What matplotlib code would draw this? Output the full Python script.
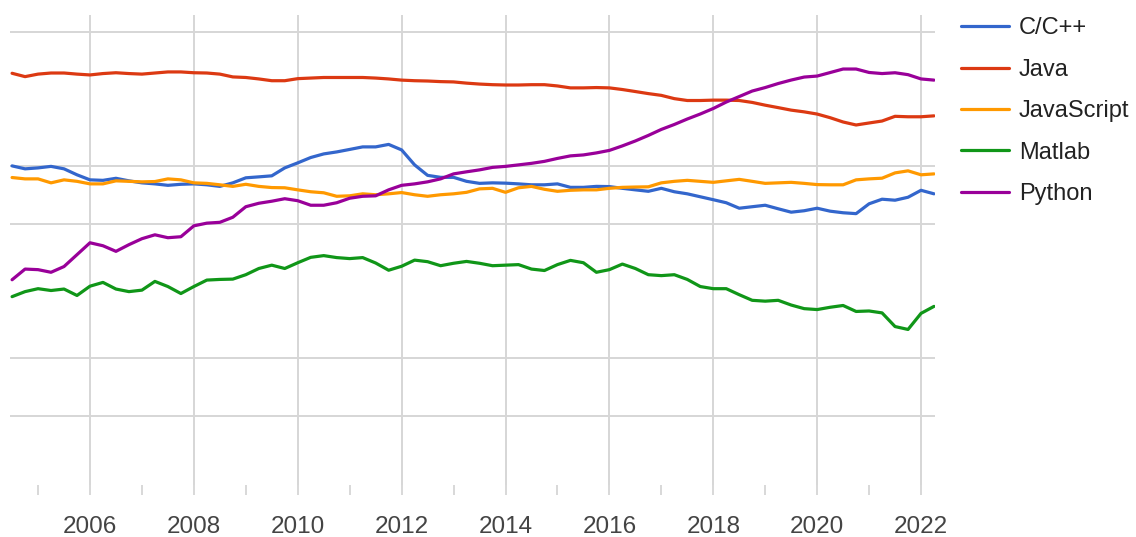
import numpy as np
import matplotlib
matplotlib.use("Agg")
import matplotlib.pyplot as plt
from matplotlib.ticker import MultipleLocator, NullFormatter

plt.rcParams['font.family'] = ['Liberation Sans', 'DejaVu Sans']

# quarterly samples, mid 2004 .. Q1 2022 (share of searches, %)
years = [2004.5 + 0.25 * k for k in range(72)]

cpp = [10.04, 9.69, 9.80, 9.98, 9.69, 9.02, 8.49, 8.44, 8.65, 8.39, 8.19, 8.09,
       7.95, 8.05, 8.09, 8.00, 7.85, 8.19, 8.70, 8.80, 8.91, 9.80, 10.41, 11.10,
       11.59, 11.87, 12.23, 12.61, 12.61, 12.99, 12.16, 10.16, 8.96, 8.75, 8.75, 8.34,
       8.14, 8.19, 8.16, 8.09, 8.00, 8.00, 8.09, 7.76, 7.76, 7.85, 7.83, 7.67,
       7.53, 7.40, 7.67, 7.36, 7.18, 6.93, 6.69, 6.45, 6.04, 6.15, 6.26, 6.00,
       5.76, 5.86, 6.04, 5.83, 5.72, 5.66, 6.37, 6.73, 6.65, 6.89, 7.49, 7.18]

java = [30.5, 29.3, 30.2, 30.6, 30.6, 30.2, 29.9, 30.4, 30.7, 30.4, 30.2, 30.6,
        31.0, 31.0, 30.7, 30.6, 30.2, 29.2, 29.0, 28.5, 27.9, 27.9, 28.6, 28.8,
        29.0, 29.0, 29.0, 29.0, 28.8, 28.5, 28.1, 27.9, 27.8, 27.6, 27.5, 27.1,
        26.8, 26.6, 26.5, 26.5, 26.6, 26.6, 26.2, 25.6, 25.6, 25.7, 25.6, 25.1,
        24.5, 23.9, 23.4, 22.5, 22.0, 22.0, 22.1, 22.1, 22.0, 21.5, 20.8, 20.2,
        19.6, 19.2, 18.7, 17.9, 17.0, 16.4, 16.8, 17.2, 18.2, 18.1, 18.1, 18.3]

javascript = [8.73, 8.59, 8.59, 8.19, 8.49, 8.34, 8.09, 8.09, 8.39, 8.34, 8.29, 8.32,
              8.59, 8.49, 8.19, 8.14, 8.00, 7.85, 8.05, 7.85, 7.74, 7.72, 7.53, 7.36,
              7.27, 6.97, 7.01, 7.18, 7.10, 7.18, 7.29, 7.10, 6.97, 7.10, 7.18, 7.31,
              7.62, 7.67, 7.31, 7.72, 7.85, 7.58, 7.40, 7.49, 7.53, 7.53, 7.67, 7.76,
              7.79, 7.81, 8.19, 8.34, 8.44, 8.34, 8.24, 8.39, 8.54, 8.34, 8.14, 8.19,
              8.24, 8.14, 8.02, 8.00, 8.00, 8.49, 8.59, 8.66, 9.23, 9.46, 9.02, 9.12]

matlab = [2.09, 2.22, 2.30, 2.25, 2.29, 2.12, 2.37, 2.48, 2.29, 2.22, 2.26, 2.51,
          2.36, 2.17, 2.36, 2.55, 2.57, 2.58, 2.72, 2.93, 3.05, 2.93, 3.14, 3.35,
          3.42, 3.34, 3.30, 3.34, 3.13, 2.87, 3.01, 3.24, 3.18, 3.03, 3.12, 3.19,
          3.12, 3.03, 3.05, 3.07, 2.91, 2.86, 3.07, 3.23, 3.14, 2.80, 2.89, 3.09,
          2.93, 2.72, 2.69, 2.72, 2.57, 2.36, 2.30, 2.30, 2.14, 2.00, 1.98, 2.00,
          1.89, 1.81, 1.79, 1.84, 1.88, 1.75, 1.76, 1.72, 1.46, 1.41, 1.71, 1.86]

python = [2.56, 2.91, 2.89, 2.80, 3.00, 3.46, 3.99, 3.85, 3.60, 3.90, 4.19, 4.39,
          4.24, 4.29, 4.89, 5.05, 5.10, 5.42, 6.15, 6.41, 6.57, 6.77, 6.61, 6.26,
          6.26, 6.45, 6.81, 6.97, 7.01, 7.53, 7.95, 8.09, 8.29, 8.59, 9.12, 9.35,
          9.57, 9.86, 9.98, 10.16, 10.35, 10.60, 10.98, 11.32, 11.45, 11.73, 12.09, 12.76,
          13.54, 14.47, 15.55, 16.50, 17.62, 18.71, 19.99, 21.60, 23.07, 24.65, 25.70, 26.97,
          28.12, 29.15, 29.50, 30.77, 32.1, 32.1, 30.8, 30.4, 30.7, 30.0, 28.5, 28.1]

names = ['C/C++', 'Java', 'JavaScript', 'Matlab', 'Python']
colors = ['#3366cc', '#dc3912', '#ff9900', '#109618', '#990099']
series = [cpp, java, javascript, matlab, python]

fig = plt.figure(figsize=(11.36, 5.37), dpi=100)
ax = fig.add_axes([0.0088, 0.0968, 0.8143, 0.8753])

for name, col, vals in zip(names, colors, series):
    ax.plot(years, vals, color=col, lw=2.3, label=name, solid_capstyle='round')

ax.set_yscale('log')
ax.set_ylim(0.218, 61.4)
ax.set_xlim(2004.46, 2022.27)

grid_col = '#d6d6d6'
ax.set_yticks([0.5, 1, 5, 10, 50])
ax.yaxis.set_minor_locator(matplotlib.ticker.NullLocator())
ax.yaxis.set_major_formatter(NullFormatter())
ax.tick_params(axis='y', length=0)

ax.xaxis.set_minor_locator(MultipleLocator(1))
ax.set_xticks(range(2006, 2023, 2))
ax.xaxis.set_major_formatter(matplotlib.ticker.FuncFormatter(lambda v, p: '%d' % v))
ax.tick_params(axis='x', which='both', length=7.2, width=1.3, color=grid_col,
               direction='out', labelsize=17.5, labelcolor='#444444', pad=15)
ax.grid(True, which='major', color=grid_col, lw=1.4)
ax.set_axisbelow(True)
for s in ax.spines.values():
    s.set_visible(False)

ax.legend(loc='upper left', bbox_to_anchor=(0.8375, 0.985), bbox_transform=fig.transFigure,
          frameon=False, fontsize=17, handlelength=2.05, handletextpad=0.4,
          labelspacing=0.82, borderaxespad=0, labelcolor='#222222')

fig.savefig('out.png', dpi=100)
